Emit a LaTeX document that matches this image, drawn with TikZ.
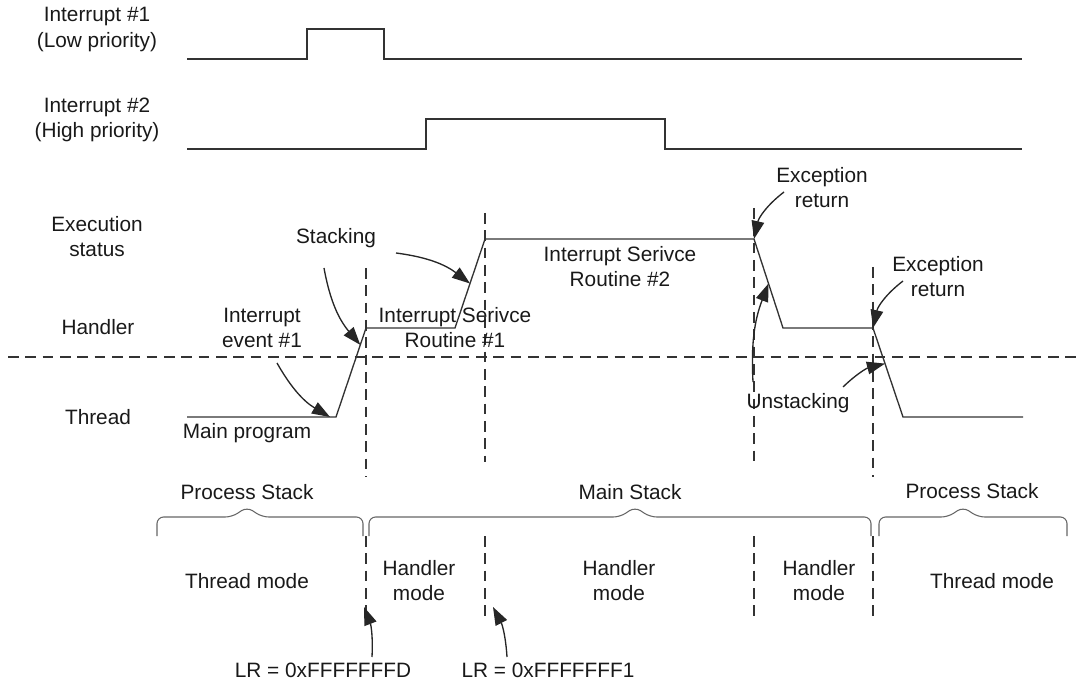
\documentclass[tikz,border=0pt]{standalone}
\usepackage{fontspec}
\setmainfont{Liberation Sans}
\usetikzlibrary{arrows.meta,calc}

\begin{document}
\begin{tikzpicture}[
    x=0.75pt, y=-0.75pt,
    font=\fontsize{15.6}{18.8}\selectfont,
    sig/.style={line width=1pt, draw=black!80},
    guide/.style={line width=0.9pt, draw=black!80, dash pattern=on 8pt off 5pt},
    brc/.style={line width=0.8pt, draw=black!60, rounded corners=5pt},
    lbl/.style={align=center, inner sep=0pt, text=black!90},
    arrow/.style={-{Triangle[length=13.5pt,width=9.5pt]}, line width=1pt, draw=black!85}
]
\useasboundingbox (0,0) rectangle (1084,680);

% row labels
\node[lbl] (int1) at (97,29.5) {Interrupt \#1\\(Low priority)};
\node[lbl] (int2) at (97,119.5) {Interrupt \#2\\(High priority)};
\node[lbl] (exec) at (97,236.5) {Execution\\status};
\node[lbl] (hdl) at (98,327) {Handler};
\node[lbl] (thr) at (98,417) {Thread};

% interrupt request lines
\draw[sig] (187,59) -- (307,59) -- (307,29) -- (384,29) -- (384,59) -- (1022,59);
\draw[sig] (187,149) -- (426,149) -- (426,119) -- (665,119) -- (665,149) -- (1022,149);

% execution status trace
\coordinate (t0) at (187,417);
\coordinate (t1) at (336,417);
\coordinate (t2) at (366,328);
\coordinate (t3) at (455,328);
\coordinate (t4) at (485,239);
\coordinate (t5) at (754,239);
\coordinate (t6) at (783,328);
\coordinate (t7) at (873,328);
\coordinate (t8) at (903,417);
\coordinate (t9) at (1023,417);
\draw[sig] (t0) -- (t1) -- (t2) -- (t3) -- (t4) -- (t5) -- (t6) -- (t7) -- (t8) -- (t9);

% mode boundary
\draw[guide] (8,357) -- (1082,357);
\draw[guide] (366,268) -- (366,477);
\draw[guide] (485,213) -- (485,462);
\draw[guide] (754,208) -- (754,462);
\draw[guide] (873,267) -- (873,477);
\foreach \gx in {366,485,754,873}
  \draw[guide] (\gx,536) -- (\gx,620);

% trace labels
\node[lbl] (main) at (247,433) {Main program};
\node[lbl] (evt) at (262,327.5) {Interrupt\\event \#1};
\node[lbl] (stk) at (336,238) {Stacking};
\node[lbl] (isr1) at (455,327.5) {Interrupt Serivce\\Routine \#1};
\node[lbl] (isr2) at (620,266.5) {Interrupt Serivce\\Routine \#2};
\node[lbl] (exr1) at (822,187.5) {Exception\\return};
\node[lbl] (exr2) at (938,276.5) {Exception\\return};
\node[lbl] (ustk) at (798,403) {Unstacking};

% annotation arrows
\coordinate (evtA) at (277,363);
\coordinate (stkA) at (324,268);
\coordinate (stkB) at (396,253);
\coordinate (exrA) at (784,192);
\coordinate (exrB) at (903,281);
\coordinate (ustkA) at (753,382);
\coordinate (ustkB) at (843,387);
\draw[arrow] (evtA) to[bend right=15] (330,417);
\draw[arrow] (stkA) to[bend right=15] ($(t1)!0.81!(t2)$);
\draw[arrow] (stkB) to[bend left=15] ($(t3)!0.5!(t4)$);
\draw[arrow] (exrA) to[bend right=20] (t5);
\draw[arrow] (exrB) to[bend right=20] (t7);
\draw[arrow] (ustkA) to[bend left=12] ($(t5)!0.5!(t6)$);
\draw[arrow] (ustkB) to[bend left=15] ($(t7)!0.4!(t8)$);

% stacks
\draw[brc] (157,536) -- (157,517) -- (232,517) -- (247,507) -- (262,517) -- (363,517) -- (363,536);
\draw[brc] (369,536) -- (369,517) -- (620,517) -- (635,507) -- (650,517) -- (871,517) -- (871,536);
\draw[brc] (879,536) -- (879,517) -- (948,517) -- (963,507) -- (978,517) -- (1067,517) -- (1067,536);
\node[lbl] (ps1) at (247,492) {Process Stack};
\node[lbl] (ms) at (630,492) {Main Stack};
\node[lbl] (ps2) at (972,491) {Process Stack};

% modes
\node[lbl] (tm1) at (247,581) {Thread mode};
\node[lbl] (hm1) at (419,580.5) {Handler\\mode};
\node[lbl] (hm2) at (619,580.5) {Handler\\mode};
\node[lbl] (hm3) at (819,580.5) {Handler\\mode};
\node[lbl] (tm2) at (992,581) {Thread mode};

% link register values
\node[lbl] (lr1) at (323,670) {LR = 0xFFFFFFFD};
\node[lbl] (lr2) at (548,670) {LR = 0xFFFFFFF1};
\coordinate (lr1A) at (372,657);
\coordinate (lr2A) at (507,657);
\draw[arrow] (lr1A) to[bend right=12] (364,607);
\draw[arrow] (lr2A) to[bend right=12] (493,607);
\end{tikzpicture}
\end{document}
